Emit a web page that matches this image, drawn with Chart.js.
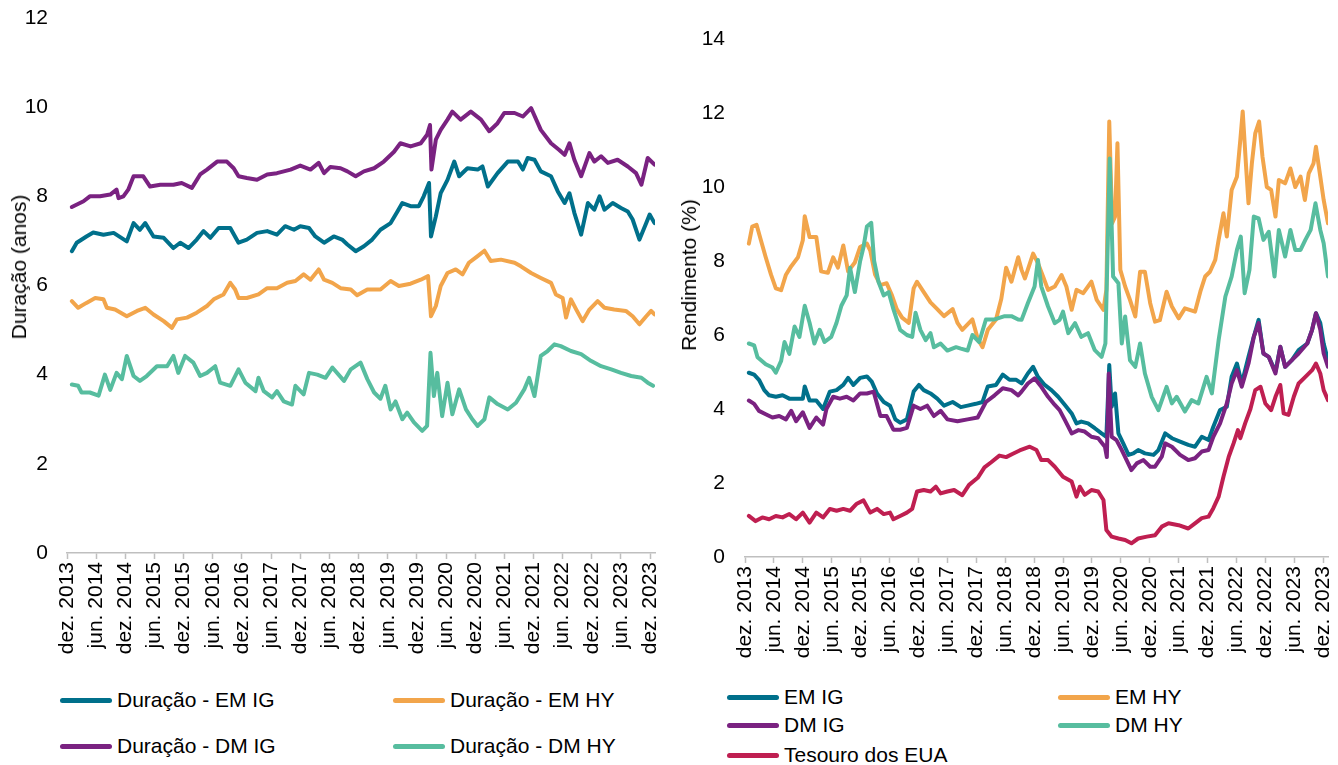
<!DOCTYPE html>
<html><head><meta charset="utf-8">
<script src="https://cdn.jsdelivr.net/npm/chart.js@4.4.1/dist/chart.umd.min.js"></script>
<style>
html,body{margin:0;padding:0;width:1338px;height:765px;overflow:hidden;background:#fff;font-family:"Liberation Sans",Arial,sans-serif;}
canvas{position:absolute;top:0;}
.ytitle{position:absolute;font-size:21px;color:#000;white-space:nowrap;transform:translate(-50%,-50%) rotate(-90deg);}
.leg{position:absolute;font-size:21px;color:#000;white-space:nowrap;height:24px;line-height:24px;transform:translateY(-50%);}
.leg .sw{display:inline-block;width:52px;height:5px;border-radius:3px;vertical-align:middle;margin-right:5px;position:relative;top:-1px;}
</style></head>
<body>
<canvas id="c1" width="685" height="665" style="left:0px;width:685px;height:665px;"></canvas>
<canvas id="c2" width="700" height="665" style="left:670px;width:700px;height:665px;"></canvas>
<div class="ytitle" style="left:19px;top:267px;">Duração (anos)</div>
<div class="ytitle" style="left:689px;top:275px;">Rendimento (%)</div>
<div id="legends"></div>
<script>
// ---------- tick labels (x axis: months since Dec 2013, one label every 6 months) ----------
const tickLabels = ['dez. 2013','jun. 2014','dez. 2014','jun. 2015','dez. 2015','jun. 2016','dez. 2016','jun. 2017','dez. 2017','jun. 2018','dez. 2018','jun. 2019','dez. 2019','jun. 2020','dez. 2020','jun. 2021','dez. 2021','jun. 2022','dez. 2022','jun. 2023','dez. 2023'];

// ---------- Left chart: Duração (anos) ----------
const durEmIgX = [1.0,2.0,4.0,5.4,7.5,9.6,12.3,13.7,15.0,16.1,17.8,19.9,21.9,23.3,25.0,26.7,28.1,29.5,31.2,33.6,35.3,37.0,39.1,41.2,43.2,44.9,46.7,48.0,49.8,51.1,52.9,54.9,56.6,57.7,59.4,61.1,62.8,64.5,66.6,68.0,69.0,70.7,72.4,73.4,74.5,74.9,75.9,76.9,78.3,79.7,80.7,82.4,84.5,85.5,86.6,88.6,90.7,92.8,93.8,94.8,96.2,97.5,99.6,101.0,102.4,103.4,104.4,105.8,107.2,108.5,109.6,110.6,112.3,114.0,115.4,116.4,117.8,119.2,119.9,120.9];
const durEmIgY = [6.77,6.96,7.10,7.19,7.14,7.18,6.99,7.40,7.25,7.40,7.10,7.07,6.84,6.96,6.84,7.03,7.22,7.07,7.29,7.29,6.96,7.03,7.18,7.22,7.14,7.33,7.25,7.33,7.29,7.10,6.96,7.10,7.03,6.92,6.77,6.88,7.03,7.25,7.40,7.66,7.85,7.78,7.78,8.00,8.30,7.10,7.55,8.07,8.37,8.78,8.45,8.63,8.60,8.67,8.22,8.52,8.78,8.78,8.60,8.86,8.82,8.56,8.45,8.11,7.85,8.07,7.63,7.14,7.85,7.70,8.00,7.70,7.85,7.74,7.66,7.48,7.03,7.40,7.59,7.40];

const durEmHyX = [1.0,2.3,4.0,5.8,7.5,8.2,9.9,12.3,14.4,16.1,17.8,19.9,21.6,22.6,24.7,26.7,28.8,30.2,32.2,33.6,34.6,35.3,37.0,39.4,41.2,43.2,45.3,47.0,48.7,50.1,51.8,52.9,54.6,56.3,58.4,59.7,61.8,64.5,66.6,68.3,70.7,72.8,74.3,74.9,75.9,76.9,78.3,80.0,81.4,82.7,84.5,85.9,87.2,89.3,92.1,93.4,95.5,97.5,99.6,100.6,102.0,102.7,103.7,104.8,106.1,107.5,109.2,110.6,112.6,115.0,116.4,117.8,119.2,120.2,120.9];
const durEmHyY = [5.65,5.50,5.61,5.72,5.69,5.50,5.46,5.31,5.43,5.50,5.35,5.20,5.05,5.24,5.28,5.39,5.54,5.69,5.80,6.06,5.91,5.72,5.72,5.80,5.94,5.94,6.06,6.10,6.25,6.13,6.36,6.13,6.06,5.94,5.91,5.78,5.91,5.91,6.10,5.99,6.04,6.13,6.21,5.31,5.54,5.99,6.28,6.36,6.25,6.51,6.66,6.78,6.55,6.58,6.51,6.43,6.28,6.17,6.06,5.80,5.72,5.28,5.69,5.46,5.20,5.46,5.65,5.50,5.46,5.43,5.31,5.13,5.31,5.43,5.35];

const durDmIgX = [1.0,3.4,4.7,6.8,8.9,10.2,10.6,11.6,12.6,13.7,15.7,17.1,19.2,21.9,23.6,25.7,27.4,28.8,30.9,32.9,34.3,35.3,37.0,39.1,41.2,43.2,46.0,48.0,50.1,51.8,52.9,54.2,56.3,57.7,59.4,61.1,63.2,65.2,67.3,68.6,70.7,72.8,74.1,74.7,75.0,75.9,76.9,78.3,79.3,81.0,83.1,85.2,86.9,88.6,90.0,92.1,93.8,95.5,97.5,99.6,101.3,102.4,103.4,104.4,105.8,107.5,108.5,109.9,111.3,113.3,115.4,117.1,118.2,119.5,120.9];
const durDmIgY = [7.76,7.89,8.00,8.00,8.04,8.15,7.96,8.00,8.15,8.45,8.45,8.22,8.26,8.26,8.30,8.19,8.49,8.60,8.78,8.78,8.63,8.45,8.41,8.37,8.49,8.52,8.60,8.69,8.60,8.75,8.52,8.66,8.63,8.56,8.45,8.56,8.63,8.78,9.00,9.19,9.12,9.19,9.38,9.60,8.60,9.27,9.49,9.72,9.90,9.72,9.90,9.72,9.46,9.64,9.87,9.87,9.79,9.98,9.49,9.19,9.04,8.93,9.19,8.82,8.45,8.97,8.78,8.90,8.75,8.82,8.67,8.52,8.26,8.86,8.71];

const durDmHyX = [1.0,2.3,3.0,4.7,6.5,7.8,8.9,10.2,11.3,12.3,13.7,15.0,16.4,18.5,20.6,21.9,22.9,24.3,26.0,27.4,28.8,30.5,31.5,33.6,35.3,36.7,38.8,39.4,40.5,42.2,43.2,44.6,46.3,47.0,48.7,49.8,51.5,53.2,54.6,57.0,58.4,60.4,61.8,63.2,64.5,65.5,66.6,67.6,69.0,70.0,71.4,73.1,74.1,74.8,75.5,76.2,77.2,78.3,79.3,80.7,82.1,83.4,84.5,85.9,86.9,88.6,90.7,92.4,94.1,95.1,96.2,97.5,98.9,100.3,101.6,103.7,105.8,107.8,109.9,112.0,114.0,116.1,118.2,119.5,120.6];
const durDmHyY = [3.78,3.75,3.60,3.60,3.53,4.00,3.66,4.04,3.90,4.42,3.97,3.86,3.97,4.19,4.19,4.42,4.04,4.42,4.27,3.97,4.04,4.19,3.82,3.75,4.12,3.82,3.63,3.93,3.63,3.49,3.63,3.40,3.33,3.75,3.56,4.04,4.00,3.93,4.16,3.86,4.12,4.27,3.90,3.60,3.46,3.75,3.22,3.40,3.00,3.15,2.93,2.74,2.85,4.49,3.52,4.04,3.07,3.82,3.11,3.67,3.22,3.00,2.85,3.00,3.49,3.34,3.22,3.37,3.67,3.93,3.52,4.42,4.53,4.68,4.64,4.53,4.46,4.31,4.19,4.12,4.04,3.97,3.93,3.82,3.75];

// ---------- Right chart: Rendimento (%) ----------
const ylEmIgX = [0.8,1.9,2.9,4.0,5.0,6.4,7.8,9.2,10.6,12.0,12.4,13.4,14.8,16.2,17.6,19.0,20.4,21.4,22.5,23.9,25.3,26.3,27.4,28.8,30.1,31.2,32.2,33.6,35.0,36.1,37.1,38.5,39.9,41.3,43.1,44.8,46.2,47.9,49.3,50.4,52.1,53.5,54.9,56.3,57.4,58.7,59.8,60.8,62.2,63.6,65.0,66.4,67.8,68.8,69.8,71.2,72.6,74.0,75.0,75.6,76.1,76.8,77.5,78.5,79.6,80.6,81.6,83.0,84.8,85.8,87.2,88.6,90.3,92.0,93.4,94.8,96.2,97.2,98.6,100.0,101.0,102.1,103.1,104.5,105.6,106.6,107.6,108.7,110.1,111.1,112.1,113.5,114.9,116.7,117.7,118.5,119.4,120.1,121.0];
const ylEmIgY = [4.98,4.93,4.79,4.51,4.37,4.33,4.37,4.28,4.28,4.28,4.61,4.23,4.23,4.00,4.47,4.51,4.65,4.84,4.65,4.84,4.88,4.74,4.42,4.19,4.09,3.72,3.63,3.72,4.47,4.65,4.51,4.42,4.28,4.09,4.19,4.05,4.09,4.14,4.19,4.61,4.65,4.93,4.79,4.79,4.69,4.96,5.14,4.87,4.65,4.51,4.33,4.11,3.88,3.61,3.66,3.61,3.48,3.34,3.25,5.19,4.06,4.42,3.34,3.07,2.76,2.80,2.89,2.80,2.76,2.89,3.34,3.21,3.12,3.03,2.98,3.25,3.16,3.52,3.97,4.06,4.87,5.23,4.69,5.41,5.95,6.41,5.50,5.41,5.01,5.68,5.14,5.32,5.59,5.77,6.14,6.59,6.32,5.77,5.32];

const ylEmHyX = [0.8,1.5,2.4,3.3,4.3,5.4,6.4,7.5,8.5,9.6,11.0,12.0,12.4,13.4,14.8,15.8,17.2,18.3,19.3,20.4,21.4,22.8,23.9,25.3,26.0,27.0,28.1,29.4,30.5,31.5,32.6,34.0,35.0,35.7,37.1,38.5,39.9,41.3,43.1,44.1,45.1,47.2,48.3,49.3,50.4,52.1,53.2,54.2,55.3,56.7,57.4,58.1,59.8,60.8,61.9,62.9,64.3,65.7,66.7,67.8,68.8,70.2,71.9,73.0,74.4,75.0,75.6,76.2,76.8,77.3,77.9,78.9,79.9,81.0,82.0,83.0,84.1,85.1,86.1,87.5,88.6,90.0,91.3,93.4,94.5,95.5,96.5,97.6,98.3,99.3,100.0,101.0,102.1,102.8,103.3,104.0,104.5,105.2,105.9,106.7,107.4,108.3,109.2,110.1,110.8,112.1,113.2,114.2,115.3,116.2,117.0,118.0,118.5,119.4,120.1,121.0];
const ylEmHyY = [8.47,8.93,8.98,8.56,8.10,7.63,7.26,7.21,7.63,7.86,8.10,8.56,9.21,8.65,8.65,7.72,7.68,8.10,7.82,8.42,7.72,7.96,8.38,8.47,8.28,7.63,7.35,7.40,7.07,6.70,6.47,6.33,7.26,7.44,7.16,6.88,6.70,6.51,6.70,6.33,6.14,6.42,5.90,5.67,6.14,6.42,6.98,7.82,7.44,8.10,7.76,7.53,8.20,7.94,7.57,7.22,7.31,7.62,7.31,6.68,7.22,7.13,7.44,6.95,6.68,7.22,11.77,9.02,9.20,11.18,7.76,7.31,6.95,6.50,7.71,7.71,6.86,6.36,6.40,7.17,6.77,6.45,6.72,6.63,7.17,7.58,7.71,8.03,8.57,9.29,8.66,9.92,10.28,11.27,12.04,10.55,9.56,10.64,11.45,11.77,10.82,10.00,9.92,9.20,10.19,10.10,10.50,10.00,10.28,9.65,10.37,10.64,11.09,10.28,9.65,9.02];

const ylDmIgX = [0.8,1.9,2.9,4.3,5.7,7.1,8.5,9.6,10.6,12.0,13.4,14.8,16.2,16.9,18.3,19.7,21.1,22.5,23.9,25.3,26.7,28.1,29.4,30.8,32.2,33.6,35.0,36.4,37.8,39.2,40.6,42.0,44.1,46.2,48.3,50.0,51.8,53.5,55.3,56.7,57.4,58.7,60.1,61.5,62.9,64.3,65.3,66.4,67.8,69.2,70.5,71.9,73.3,74.7,75.1,75.5,76.1,77.1,78.2,79.2,80.2,81.3,82.7,84.1,85.1,86.5,87.2,88.6,90.3,92.0,93.4,94.8,96.2,97.2,98.6,100.0,101.0,102.1,103.1,104.5,105.6,106.6,107.6,108.7,110.1,111.1,112.1,113.5,114.9,116.7,117.7,118.5,119.4,120.1,121.0];
const ylDmIgY = [4.23,4.14,3.95,3.86,3.77,3.81,3.72,3.95,3.67,3.91,3.49,3.77,3.58,4.00,4.33,4.28,4.33,4.23,4.42,4.42,4.47,3.81,3.81,3.44,3.44,3.49,4.09,4.00,4.09,3.81,3.95,3.72,3.67,3.72,3.77,4.19,4.37,4.56,4.51,4.37,4.47,4.69,4.83,4.60,4.33,4.11,3.97,3.70,3.34,3.43,3.39,3.25,3.21,2.98,2.70,4.96,3.25,3.16,2.89,2.62,2.35,2.53,2.62,2.44,2.44,2.71,3.07,2.98,2.76,2.62,2.67,2.85,2.89,3.25,3.61,4.15,4.69,5.05,4.60,5.23,5.95,6.32,5.50,5.41,4.96,5.68,5.14,5.32,5.50,5.77,6.14,6.59,6.14,5.50,5.14];

const ylDmHyX = [0.8,1.9,2.6,4.3,5.7,6.4,7.5,8.2,9.2,10.3,11.3,12.4,13.4,14.4,15.5,16.5,17.9,19.0,20.0,21.1,21.8,22.8,23.9,24.6,25.3,26.2,26.8,27.7,28.8,29.8,30.8,32.2,33.6,34.7,35.4,36.4,37.5,38.5,39.2,40.6,42.0,43.8,44.8,46.2,47.2,48.6,50.0,51.8,53.9,55.3,56.7,57.4,58.7,60.1,60.8,61.5,62.9,64.3,65.3,66.0,67.1,68.5,69.8,71.2,72.6,74.0,74.8,75.7,76.4,77.5,78.2,78.9,79.9,81.0,82.0,83.0,84.4,85.8,87.5,88.6,89.6,91.3,92.7,94.1,95.8,96.9,98.3,99.7,101.0,102.1,102.9,103.7,104.7,105.6,106.6,107.6,108.7,109.9,110.8,112.1,113.2,114.2,115.3,116.3,117.4,118.4,119.4,120.1,121.0];
const ylDmHyY = [5.77,5.72,5.40,5.21,5.12,4.98,5.30,5.81,5.49,6.23,5.95,6.79,6.33,5.77,6.14,5.81,5.95,6.33,6.79,7.07,7.82,7.16,8.00,8.38,8.93,9.03,8.00,7.44,7.07,7.16,6.70,6.14,6.00,5.95,6.60,6.14,5.86,6.05,5.67,5.77,5.58,5.67,5.63,5.58,6.00,5.81,6.42,6.42,6.51,6.51,6.42,6.41,6.86,7.31,8.03,7.31,6.77,6.32,6.41,6.63,6.05,6.32,5.95,6.05,5.59,5.41,5.77,10.77,7.58,7.40,5.77,6.50,5.32,5.14,5.77,4.96,4.33,3.97,4.60,4.15,4.33,3.93,4.24,4.15,4.87,4.42,5.86,7.04,7.58,8.30,8.66,7.13,7.76,9.20,9.15,8.57,8.79,7.58,8.84,8.12,8.84,8.30,8.30,8.57,8.84,9.56,8.84,8.48,7.58];

const ylUstX = [0.8,2.2,3.6,5.0,6.4,7.8,9.2,10.6,12.0,13.4,14.8,16.2,17.6,19.0,20.4,21.8,23.2,24.6,26.0,27.4,28.8,30.1,30.8,32.2,33.6,34.7,35.7,37.1,38.5,39.6,40.6,42.0,43.4,45.1,46.5,48.3,49.7,51.1,52.8,54.2,55.6,57.0,59.1,60.5,61.5,62.9,64.3,66.0,67.8,68.8,69.5,70.5,71.9,73.3,74.4,75.0,76.1,77.5,78.9,80.2,81.6,83.4,85.1,86.5,87.9,90.0,92.0,93.4,94.8,96.2,97.2,98.3,99.3,100.4,101.4,102.3,102.8,103.8,104.9,105.9,107.0,108.0,109.2,110.1,111.1,111.8,112.8,113.9,114.9,116.3,117.7,118.5,119.4,120.1,121.0];
const ylUstY = [1.11,0.97,1.07,1.02,1.11,1.07,1.16,1.02,1.20,0.93,1.20,1.07,1.30,1.25,1.30,1.25,1.44,1.53,1.20,1.30,1.16,1.20,1.02,1.11,1.20,1.30,1.77,1.81,1.77,1.90,1.72,1.77,1.81,1.67,1.95,2.14,2.42,2.56,2.74,2.70,2.79,2.88,2.98,2.89,2.62,2.62,2.44,2.17,2.04,1.63,1.90,1.68,1.81,1.77,1.54,0.73,0.55,0.50,0.46,0.37,0.50,0.55,0.59,0.82,0.91,0.86,0.77,0.91,1.05,1.09,1.32,1.63,2.17,2.71,3.07,3.43,3.21,3.61,4.00,4.51,4.60,4.15,3.97,4.33,4.65,3.88,3.84,4.33,4.69,4.87,5.05,5.23,4.96,4.51,4.24];

// ---------- series names / colours ----------
const leftNames  = ['Duração - EM IG','Duração - EM HY','Duração - DM IG','Duração - DM HY'];
const rightNames = ['EM IG','EM HY','DM IG','DM HY','Tesouro dos EUA'];
const COL = {emIg:'#00708B', emHy:'#F2A54B', dmIg:'#7A2281', dmHy:'#57BD9F', ust:'#BF1F51'};

const FONT = '"Liberation Sans", Arial, sans-serif';
Chart.defaults.font.family = FONT;
Chart.defaults.color = '#000';

function pts(xs, ys){ const n=Math.min(xs.length, ys.length); const r=[]; for(let i=0;i<n;i++) r.push({x:xs[i], y:ys[i]}); return r; }
function ds(label, xs, ys, color, order){
  return {label, data:pts(xs,ys), borderColor:color, backgroundColor:color, borderWidth:4, pointRadius:0, tension:0, fill:false, order};
}

function build(id, datasets, yMax, a){
  return new Chart(document.getElementById(id), {
    type:'line',
    data:{datasets},
    options:{
      responsive:false, animation:false, devicePixelRatio:1,
      layout:{padding:{top:a.padTop, right:a.padRight, left:0, bottom:0}},
      plugins:{legend:{display:false}, tooltip:{enabled:false}, title:{display:false}},
      elements:{line:{borderJoinStyle:'round', borderCapStyle:'round'}},
      scales:{
        x:{type:'linear', min:0, max:121,
          afterBuildTicks: ax => { ax.ticks = tickLabels.map((_,i)=>({value:i*6})); },
          afterFit: s => { s.height = a.xHeight; s.paddingLeft = 0; },
          ticks:{autoSkip:false, minRotation:90, maxRotation:90, padding:3, font:{size:21, family:FONT}, color:'#000',
                 callback: v => tickLabels[Math.round(v/6)]},
          grid:{display:true, drawOnChartArea:false, drawTicks:true, tickLength:6, tickColor:'#BFBFBF', tickWidth:1.5},
          border:{display:true, color:'#BFBFBF', width:1.5}
        },
        y:{type:'linear', min:0, max:yMax,
          afterFit: s => { s.width = a.yWidth; s.paddingTop = 0; s.paddingBottom = 0; },
          ticks:{stepSize:2, padding:a.tickPad, font:{size:21, family:FONT}, color:'#000'},
          grid:{display:false, drawTicks:false},
          border:{display:false}
        }
      }
    }
  });
}

build('c1', [
  ds(leftNames[0], durEmIgX, durEmIgY, COL.emIg, 3),
  ds(leftNames[1], durEmHyX, durEmHyY, COL.emHy, 2),
  ds(leftNames[2], durDmIgX, durDmIgY, COL.dmIg, 1),
  ds(leftNames[3], durDmHyX, durDmHyY, COL.dmHy, 0)
], 12, {padTop:18, padRight:30, xHeight:112, yWidth:67, tickPad:19});

build('c2', [
  ds(rightNames[0], ylEmIgX, ylEmIgY, COL.emIg, 4),
  ds(rightNames[1], ylEmHyX, ylEmHyY, COL.emHy, 3),
  ds(rightNames[2], ylDmIgX, ylDmIgY, COL.dmIg, 2),
  ds(rightNames[3], ylDmHyX, ylDmHyY, COL.dmHy, 1),
  ds(rightNames[4], ylUstX, ylUstY, COL.ust, 0)
], 14, {padTop:39, padRight:42, xHeight:108, yWidth:75, tickPad:20});

// ---------- HTML legends ----------
const legendItems = [
  [leftNames[0], COL.emIg, 60, 700], [leftNames[1], COL.emHy, 393, 700],
  [leftNames[2], COL.dmIg, 60, 746], [leftNames[3], COL.dmHy, 393, 746],
  [rightNames[0], COL.emIg, 727, 697], [rightNames[1], COL.emHy, 1058, 697],
  [rightNames[2], COL.dmIg, 727, 725], [rightNames[3], COL.dmHy, 1058, 725],
  [rightNames[4], COL.ust, 727, 755]
];
const lg = document.getElementById('legends');
legendItems.forEach(([t,c,x,y]) => {
  const d = document.createElement('div');
  d.className = 'leg';
  d.style.left = x + 'px'; d.style.top = y + 'px';
  const s = document.createElement('span'); s.className='sw'; s.style.background=c;
  d.appendChild(s); d.appendChild(document.createTextNode(t));
  lg.appendChild(d);
});
</script>
</body></html>
